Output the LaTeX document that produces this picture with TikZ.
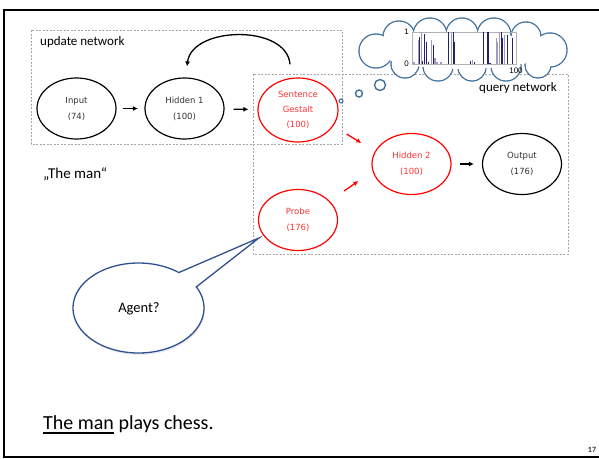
\documentclass[tikz,border=0pt]{standalone}
\usepackage{fontspec}
\setmainfont{Carlito}
\newfontfamily\labelfont{DejaVu Sans}
\newfontfamily\chartfont{Liberation Sans}
\usetikzlibrary{shapes.geometric,arrows.meta,calc}

\definecolor{cloudblue}{HTML}{41719C}
\definecolor{calloutblue}{HTML}{2F528F}
\definecolor{lightbar}{HTML}{9E9AC8}
\definecolor{darkbar}{HTML}{23206E}
\definecolor{labelred}{HTML}{FF3333}
\definecolor{boxgray}{HTML}{A6A6A6}

% underline drawn as a thicker rule slightly below the baseline
\newcommand\thickunder[1]{\setbox0\hbox{#1}\rlap{\rule[-4.5pt]{\wd0}{1.4pt}}\box0\relax}

\begin{document}
\begin{tikzpicture}[x=1pt,y=-1pt,
  neuron/.style={ellipse, draw, line width=1.2pt, fill=white,
    minimum width=79pt, minimum height=61pt, inner sep=0pt, align=center,
    font=\labelfont\fontsize{8.5}{16}\selectfont, text=black!80},
  redneuron/.style={neuron, draw=red, text=labelred},
  netbox/.style={draw=boxgray, dash pattern=on 2pt off 1.5pt, line width=0.9pt},
  flow/.style={-{Latex[length=5pt,width=5pt]}, line width=1.3pt},
  redflow/.style={flow, draw=red},
  netlabel/.style={font=\fontsize{13}{15}\selectfont, inner sep=0pt},
  bubble/.style={draw=cloudblue, line width=1.4pt, fill=white},
]
\useasboundingbox (0,0) rectangle (599,458);

% slide frame (open on the right)
\draw[line width=2pt] (602,10) -- (4,10) -- (4,456.5) -- (602,456.5);

% network groupings
\draw[netbox] (31,30) rectangle (342,144);
\draw[netbox] (253,74) rectangle (568,254);
\node[netlabel, anchor=base west] (updlabel) at (40,45) {update network};

% units
\node[neuron] (input) at (76.5,108.5) {Input\\(74)};
\node[neuron] (hid1) at (184.5,108.5) {Hidden 1\\(100)};
\node[redneuron, minimum width=80pt, minimum height=64pt, font=\labelfont\fontsize{8.5}{15}\selectfont] (sg) at (298,110) {Sentence\\Gestalt\\(100)};
\node[redneuron] (probe) at (298,220) {Probe\\(176)};
\node[redneuron] (hid2) at (411.5,164) {Hidden 2\\(100)};
\node[neuron] (output) at (522,164) {Output\\(176)};

% connections
\draw[flow, shorten <=6pt, shorten >=6.5pt] (input) -- (hid1);
\draw[flow, shorten <=9pt, shorten >=9pt] (hid1) -- (sg);
\draw[flow, shorten <=8pt, shorten >=8pt] (hid2) -- (output);
\coordinate (loopS) at ($(sg.north)+(-8,-13)$);
\coordinate (loopE) at ($(hid1.north)+(2.5,-11)$);
\draw[flow] (loopS) .. controls (287,24) and (192,26) .. (loopE);
\coordinate (sgA) at ($(sg.east)+(8,24)$);
\coordinate (sgB) at ($(hid2.west)+(-10,-21)$);
\draw[redflow] (sgA) -- (sgB);
\coordinate (prA) at ($(probe.east)+(6,-29)$);
\coordinate (prB) at ($(hid2.west)+(-13,17)$);
\draw[redflow] (prA) -- (prB);

% input phrase
\node[anchor=base west, inner sep=0pt, font=\fontsize{15}{18}\selectfont] (phrase) at (43,178) {„The man“};

% thought bubble: union of overlapping puffs, outlines first, then white
% fills that hide the inner arcs
\def\puffs{376/51/17, 399/37/16, 430/35/17, 462/34/16, 494/35/17,
  526/37/15, 550/50/17, 538/65/13, 506/66/15, 472/67/14, 438/66/15, 405/64/14}
\foreach \px/\py/\pr in \puffs
  \draw[cloudblue, line width=1.4pt] (\px,\py) circle (\pr);
\foreach \px/\py/\pr in \puffs
  \fill[white] (\px,\py) circle ({\pr-0.7});
\fill[white] (463,51) ellipse [x radius=86, y radius=18];
\draw[bubble] (380,85) circle (5.5);
\draw[bubble] (359,93.5) circle (3.5);
\draw[bubble, line width=1.1pt] (341,101) circle (2);
\node[netlabel, anchor=base east] (qrylabel) at (557,91.5) {query network};

% activation pattern of the gestalt layer
\draw[gray!60, line width=0.5pt] (412,32) rectangle (516,64);
\foreach \b/\h in {2/0.05, 6/0.75, 9/1.0, 19/0.75, 22/0.2, 24/0.05, 28/0.05,
  38/1.0, 58/0.12, 81/0.8, 82/0.7, 84/1.0, 89/0.9}
  \fill[lightbar] ({412+\b*1.04-0.7},64) rectangle ++(1.4,{-\h*32});
\foreach \b/\h in {7/0.85, 10/0.1, 12/0.95, 14/0.7, 16/0.05, 21/0.6, 35/1.0,
  40/1.0, 41/0.7, 56/0.08, 60/0.05, 69/1.0, 73/1.0, 75/0.03, 86/1.0, 87/0.8,
  92/0.9, 97/0.8}
  \fill[darkbar] ({412+\b*1.04-0.6},64) rectangle ++(1.2,{-\h*32});
\node[font=\chartfont\fontsize{8}{9}\selectfont, inner sep=0pt] (ytop) at (406.5,32) {1};
\node[font=\chartfont\fontsize{8}{9}\selectfont, inner sep=0pt] (ybot) at (406.5,63.5) {0};
\node[font=\chartfont\fontsize{8}{9}\selectfont, inner sep=0pt] (xend) at (516,71) {100};

% speech callout pointing at the probe
\coordinate (tip) at ($(probe.west)+(1,18)$);
\fill[black!8] plot[domain=0:360, samples=90, smooth] ({139.5+65.5*cos(\x)},{310+45*sin(\x)}) -- cycle;
\draw[draw=calloutblue, line width=1.3pt, fill=white, line join=miter]
  (tip) -- plot[domain=-28:308, samples=120] ({138.5+65.5*cos(\x)},{308+45*sin(\x)}) -- cycle;
\node[anchor=base, inner sep=0pt, font=\fontsize{14.5}{17}\selectfont] (agent) at (139,312) {Agent?};

% sentence
\node[anchor=base west, inner sep=0pt, font=\fontsize{20}{24}\selectfont] (sentence) at (43,429) {\thickunder{The man} plays chess.};

% slide number
\node[font=\bfseries\fontsize{8}{9}\selectfont, text=black!80, inner sep=0pt] (pagenum) at (592,449.5) {17};
\end{tikzpicture}
\end{document}
